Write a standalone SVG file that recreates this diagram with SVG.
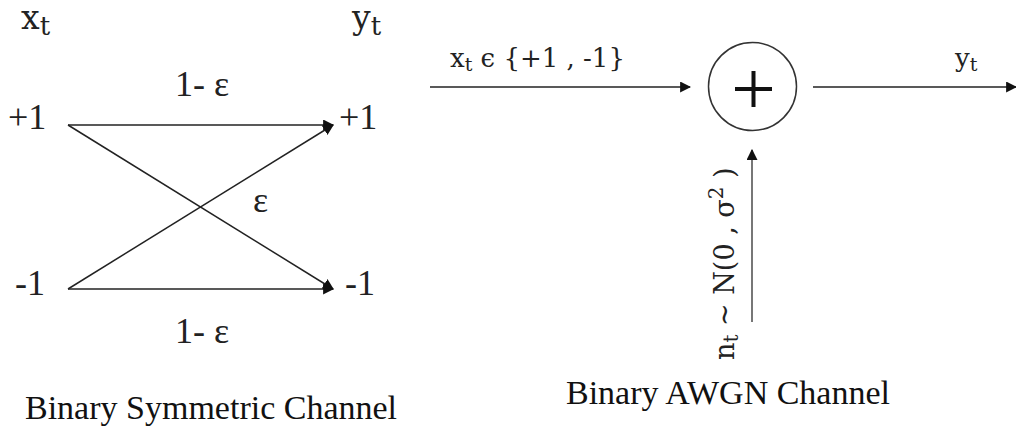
<svg xmlns="http://www.w3.org/2000/svg" width="1016" height="430" viewBox="0 0 1016 430">
<style>
.cm{font-family:"DejaVu Serif","Liberation Serif",serif;fill:#222}
.sn{font-family:"Liberation Serif","DejaVu Serif",serif;fill:#222}
.cap{font-family:"Liberation Serif","DejaVu Serif",serif;fill:#111;font-size:34px}
.ln{stroke:#222;stroke-width:1.5;fill:none}
</style>
<defs>
<marker id="ah" viewBox="0 0 10 10" refX="9" refY="5" markerWidth="11" markerHeight="11" markerUnits="userSpaceOnUse" orient="auto">
<path d="M0,0 L10,5 L0,10 Z" fill="#111"/>
</marker>
</defs>
<rect width="1016" height="430" fill="#fff"/>
<g id="connectors">
<line class="ln" x1="68" y1="125" x2="333" y2="125" marker-end="url(#ah)"/>
<line class="ln" x1="68" y1="289" x2="333" y2="289" marker-end="url(#ah)"/>
<line class="ln" x1="68" y1="125" x2="333" y2="289" marker-end="url(#ah)"/>
<line class="ln" x1="68" y1="289" x2="333" y2="125" marker-end="url(#ah)"/>
<line class="ln" x1="430" y1="87" x2="690" y2="87" marker-end="url(#ah)"/>
<line class="ln" x1="813" y1="87" x2="1016" y2="87" marker-end="url(#ah)"/>
<line x1="752" y1="322" x2="752" y2="150" stroke="#777" stroke-width="2" marker-end="url(#ah)"/>
</g>
<g id="bsc-labels">
<text class="cm" x="21" y="29" font-size="33">x<tspan font-size="26" dy="6">t</tspan></text>
<text class="cm" x="352" y="29" font-size="33">y<tspan font-size="26" dy="6">t</tspan></text>
<text class="sn" x="175" y="96" font-size="36">1- ε</text>
<text class="sn" x="253" y="212" font-size="36">ε</text>
<text class="sn" x="175" y="343" font-size="36">1- ε</text>
</g>
<g id="in-plus1"><text class="sn" x="8" y="129" font-size="36">+1</text></g>
<g id="in-minus1"><text class="sn" x="15" y="295" font-size="36">-1</text></g>
<g id="out-plus1"><text class="sn" x="339" y="129" font-size="36">+1</text></g>
<g id="out-minus1"><text class="sn" x="345" y="295" font-size="36">-1</text></g>
<g id="adder">
<circle cx="752.5" cy="86.5" r="44" fill="#fff" stroke="#333" stroke-width="1.5"/>
<path d="M735,89 H772 M753.5,71 V107" stroke="#111" stroke-width="4"/>
</g>
<g id="awgn-labels">
<text class="cm" x="450" y="67" font-size="26">x<tspan font-size="19" dy="4">t</tspan><tspan dy="-4"> ϵ {+1 , -1}</tspan></text>
<text class="cm" x="955" y="67" font-size="26">y<tspan font-size="19" dy="4">t</tspan></text>
<text class="cm" font-size="27" transform="translate(734,360) rotate(-90)">n<tspan font-size="20" dy="4">t</tspan><tspan dy="-4"> ~ N(0 , σ</tspan><tspan font-size="20" dy="-11">2</tspan><tspan dy="11"> )</tspan></text>
</g>
<g id="captions">
<text class="cap" x="25" y="419">Binary Symmetric Channel</text>
<text class="cap" x="566" y="404">Binary AWGN Channel</text>
</g>
</svg>
